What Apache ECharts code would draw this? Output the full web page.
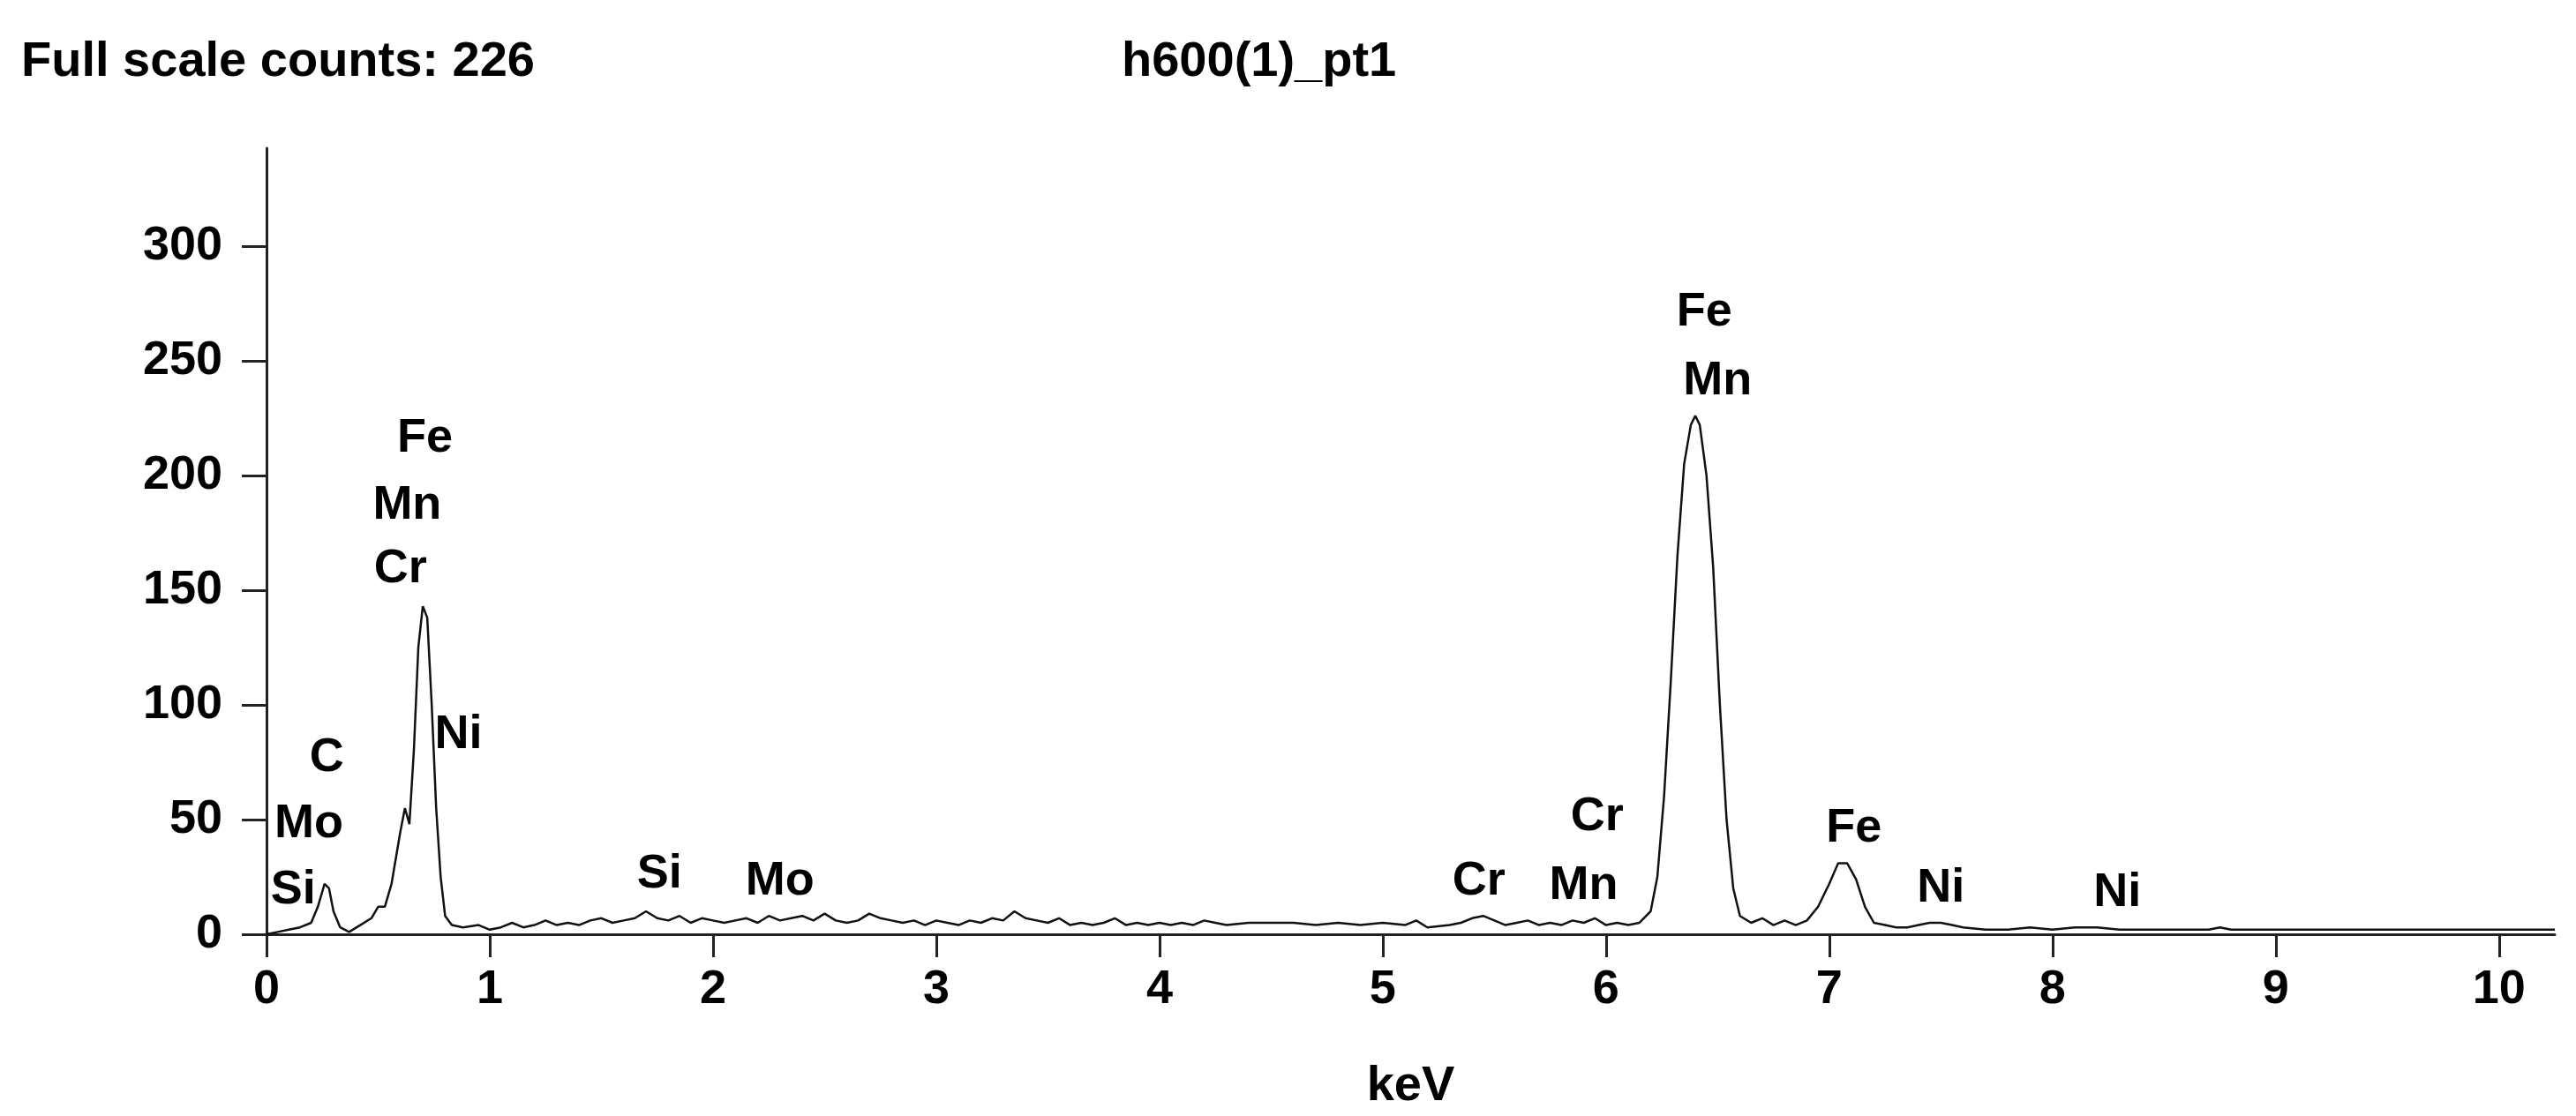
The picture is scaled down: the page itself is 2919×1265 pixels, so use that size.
<!DOCTYPE html>
<html><head><meta charset="utf-8">
<script src="https://cdn.jsdelivr.net/npm/echarts@6/dist/echarts.min.js"></script>
<style>html,body{margin:0;background:#fff}#c{width:2919px;height:1265px}</style>
</head><body><div id="c"></div>
<script>
// spectrum: energy (keV) and counts
const keV = [0,0.05,0.1,0.15,0.2,0.23,0.26,0.28,0.3,0.33,0.37,0.42,0.47,0.5,0.53,0.56,0.6,0.62,0.64,0.66,0.68,0.7,0.72,0.74,0.76,0.78,0.8,0.83,0.88,0.95,
  1.0,1.05,1.1,1.15,1.2,1.25,1.3,1.35,1.4,1.45,1.5,1.55,1.6,1.65,1.7,1.75,1.8,1.85,1.9,1.95,2.0,2.05,2.1,2.15,2.2,2.25,2.3,2.35,2.4,2.45,2.5,2.55,2.6,2.65,2.7,2.75,2.8,2.85,2.9,2.95,
  3.0,3.05,3.1,3.15,3.2,3.25,3.3,3.35,3.4,3.45,3.5,3.55,3.6,3.65,3.7,3.75,3.8,3.85,3.9,3.95,4.0,4.05,4.1,4.15,4.2,4.25,4.3,4.4,4.5,4.6,4.7,4.8,4.9,5.0,5.1,5.15,5.2,5.3,5.35,5.4,5.45,5.5,5.55,5.6,5.65,5.7,5.75,5.8,5.85,5.9,5.95,
  6.0,6.05,6.1,6.15,6.2,6.23,6.26,6.29,6.32,6.35,6.38,6.4,6.42,6.45,6.48,6.51,6.54,6.57,6.6,6.65,6.7,6.75,6.8,6.85,6.9,6.95,7.0,7.04,7.08,7.12,7.16,7.2,7.25,7.3,7.35,7.4,7.45,7.5,7.55,7.6,7.7,7.8,7.9,
  8.0,8.1,8.2,8.3,8.4,8.5,8.6,8.7,8.75,8.8,9.0,9.2,9.4,9.6,9.8,10.0,10.25];
const counts = [0,1,2,3,5,12,22,20,10,3,1,4,7,12,12,22,45,55,48,80,125,143,138,100,55,25,8,4,3,4,
  2,3,5,3,4,6,4,5,4,6,7,5,6,7,10,7,6,8,5,7,6,5,6,7,5,8,6,7,8,6,9,6,5,6,9,7,6,5,6,4,
  6,5,4,6,5,7,6,10,7,6,5,7,4,5,4,5,7,4,5,4,5,4,5,4,6,5,4,5,5,5,4,5,4,5,4,6,3,4,5,7,8,6,4,5,6,4,5,4,6,5,7,
  4,5,4,5,10,25,60,110,165,205,222,226,222,200,160,100,50,20,8,5,7,4,6,4,6,12,22,31,31,24,12,5,4,3,3,4,5,5,4,3,2,2,3,
  2,3,3,2,2,2,2,2,3,2,2,2,2,2,2,2,2];

// peak labels
const peakNames = ['C','Mo','Si','Fe','Mn','Cr','Ni','Si','Mo','Cr','Cr','Mn','Fe','Mn','Fe','Ni','Ni'];
const peakX = [0.27,0.19,0.12,0.71,0.63,0.60,0.86,1.76,2.30,5.43,5.96,5.90,6.44,6.50,7.11,7.50,8.29];
const peakY = [77,48,19,216,187,159,87,26,23,23,51,21,271,241,46,20,18];

const font = '"Liberation Sans", Arial, sans-serif';
const txt = { fontFamily: font, fontWeight: 'bold', color: '#000' };
const chart = echarts.init(document.getElementById('c'));
chart.setOption({
  animation: false,
  title: [
    { text: 'Full scale counts: 226', left: 19, top: 38, textStyle: { ...txt, fontSize: 56 } },
    { text: 'h600(1)_pt1', left: 1266, top: 38, textStyle: { ...txt, fontSize: 56 } }
  ],
  grid: { left: 302, right: 24, top: 168, bottom: 204 },
  xAxis: {
    type: 'value', min: 0, max: 10.25, interval: 1,
    name: 'keV', nameLocation: 'middle', nameGap: 145,
    nameTextStyle: { ...txt, fontSize: 56 },
    axisLine: { lineStyle: { color: '#222', width: 3 } },
    axisTick: { length: 26, lineStyle: { color: '#222', width: 3 } },
    axisLabel: { ...txt, fontSize: 54, margin: 36, showMaxLabel: false },
    splitLine: { show: false }
  },
  yAxis: {
    type: 'value', min: 0, max: 342.6, interval: 50,
    axisLine: { show: true, lineStyle: { color: '#222', width: 3 } },
    axisTick: { show: true, length: 28, lineStyle: { color: '#222', width: 3 } },
    axisLabel: { ...txt, fontSize: 54, margin: 50, showMaxLabel: false },
    splitLine: { show: false }
  },
  series: [
    { type: 'line', showSymbol: false, data: keV.map((x, i) => [x, counts[i]]),
      lineStyle: { color: '#111', width: 2.5 } },
    { type: 'scatter', symbolSize: 0, itemStyle: { opacity: 1 }, data: peakX.map((x, i) => [x, peakY[i]]),
      label: { show: true, position: 'inside', formatter: p => peakNames[p.dataIndex], ...txt, fontSize: 54 } }
  ]
});
</script></body></html>
